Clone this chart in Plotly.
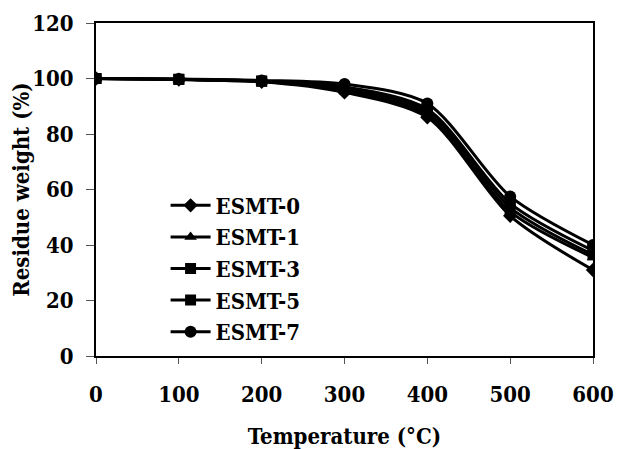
import plotly.graph_objects as go

temperature = [0, 100, 200, 300, 400, 500, 600]
esmt0 = [100, 99.6, 98.8, 95.0, 86.0, 50.5, 31.0]
esmt1 = [100, 99.6, 98.9, 95.8, 87.0, 52.0, 35.5]
esmt3 = [100, 99.7, 99.0, 96.3, 88.0, 53.5, 36.5]
esmt5 = [100, 99.7, 99.1, 97.0, 89.0, 55.0, 38.0]
esmt7 = [100, 99.8, 99.3, 98.0, 91.0, 57.5, 40.0]

series_names = ["ESMT-0", "ESMT-1", "ESMT-3", "ESMT-5", "ESMT-7"]
series_values = [esmt0, esmt1, esmt3, esmt5, esmt7]
symbols = ["diamond", "triangle-up", "square", "square", "circle"]
sizes = [11, 11, 11, 11, 12]

y_ticks = [0, 20, 40, 60, 80, 100, 120]
x_ticks = [0, 100, 200, 300, 400, 500, 600]

fam = "DejaVu Serif Condensed, DejaVu Serif, serif"

fig = go.Figure()
for name, vals, sym, sz in zip(series_names, series_values, symbols, sizes):
    fig.add_trace(go.Scatter(
        x=temperature, y=vals, name=name, mode="lines+markers",
        line=dict(color="black", width=3, shape="spline", smoothing=0.8),
        marker=dict(symbol=sym, size=sz, color="black"),
    ))

fig.update_layout(
    width=625, height=449,
    margin=dict(l=88, r=40, t=15, b=101),
    paper_bgcolor="white", plot_bgcolor="white",
    font=dict(family=fam, size=22, color="black"),
    showlegend=True,
    legend=dict(
        x=0.14, y=0.515, xanchor="left", yanchor="top",
        bgcolor="rgba(0,0,0,0)",
        font=dict(family=fam, size=22, color="black", weight="bold"),
        tracegroupgap=0, itemwidth=40,
    ),
    xaxis=dict(
        range=[0, 600], tickvals=x_ticks, ticks="outside", ticklen=6,
        tickcolor="#555", tickwidth=1, showgrid=False, zeroline=False,
        showline=True, linecolor="black", linewidth=2, mirror=True,
        automargin=False, ticklabelstandoff=12,
        tickfont=dict(family=fam, size=22, weight="bold"),
        title=dict(text="Temperature (°C)", standoff=22,
                   font=dict(family=fam, size=22, weight="bold")),
    ),
    yaxis=dict(
        range=[0, 120], tickvals=y_ticks, ticks="outside", ticklen=8,
        tickcolor="#555", tickwidth=1, showgrid=False, zeroline=False,
        showline=True, linecolor="black", linewidth=2, mirror=True,
        automargin=False, ticklabelstandoff=8,
        tickfont=dict(family=fam, size=22, weight="bold"),
        title=dict(text="Residue weight (%)", standoff=0,
                   font=dict(family=fam, size=22, weight="bold")),
    ),
)

fig.write_html("out.html")
